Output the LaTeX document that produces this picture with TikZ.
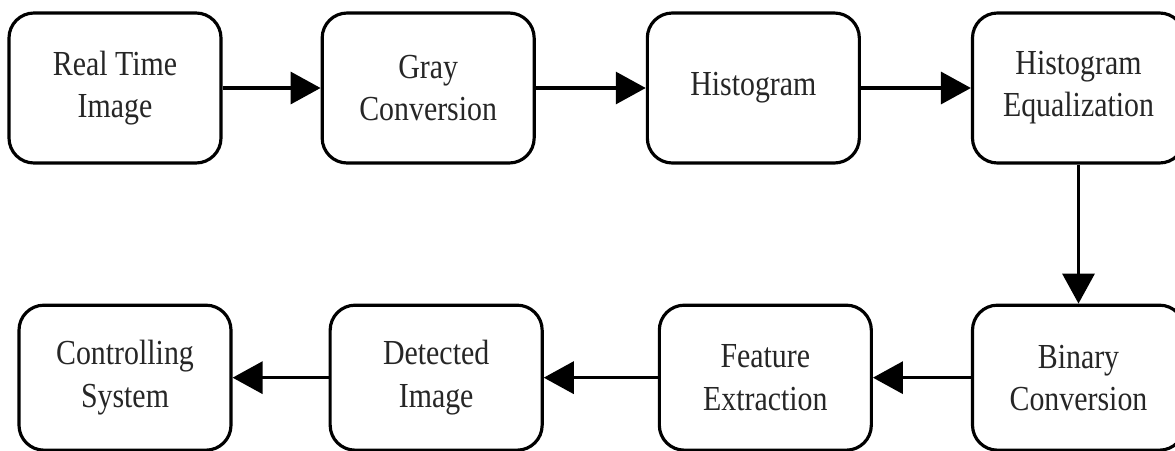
\documentclass[tikz,border=0pt]{standalone}
\usepackage{fontspec}
\setmainfont[FakeStretch=0.85]{Liberation Serif}
\usepackage{tikz}
\usetikzlibrary{arrows.meta, positioning}

\begin{document}
\begin{tikzpicture}[
    stage/.style={rectangle, rounded corners=0.5cm, draw=black, line width=1.8pt, fill=white, minimum width=4.24cm, minimum height=3cm, align=center, font=\fontsize{20}{24}\selectfont, text=black!85},
    arrow/.style={-{Triangle[length=0.6cm, width=0.64cm]}, line width=1.9pt}
]
\useasboundingbox (0,0) rectangle (23.5,-9);

% top row
\node[stage] (realtime) at (2.3,-1.76) {Real Time\\Image};
\node[stage, right=1.96cm of realtime] (gray) {Gray\\Conversion};
\node[stage, right=2.2cm of gray] (hist) {Histogram};
\node[stage, right=2.2cm of hist] (histeq) {Histogram\\Equalization};

% bottom row
\node[stage, minimum height=2.9cm, below=2.78cm of histeq] (binary) {Binary\\Conversion};
\node[stage, minimum height=2.9cm, left=1.96cm of binary] (feature) {Feature\\Extraction};
\node[stage, minimum height=2.9cm, left=2.28cm of feature] (detected) {Detected\\Image};
\node[stage, minimum height=2.9cm, left=1.92cm of detected] (control) {Controlling\\System};

\draw[arrow] (realtime) -- (gray);
\draw[arrow] (gray) -- (hist);
\draw[arrow] (hist) -- (histeq);
\draw[arrow] (histeq) -- (binary);
\draw[arrow] (binary) -- (feature);
\draw[arrow] (feature) -- (detected);
\draw[arrow] (detected) -- (control);

\end{tikzpicture}
\end{document}
